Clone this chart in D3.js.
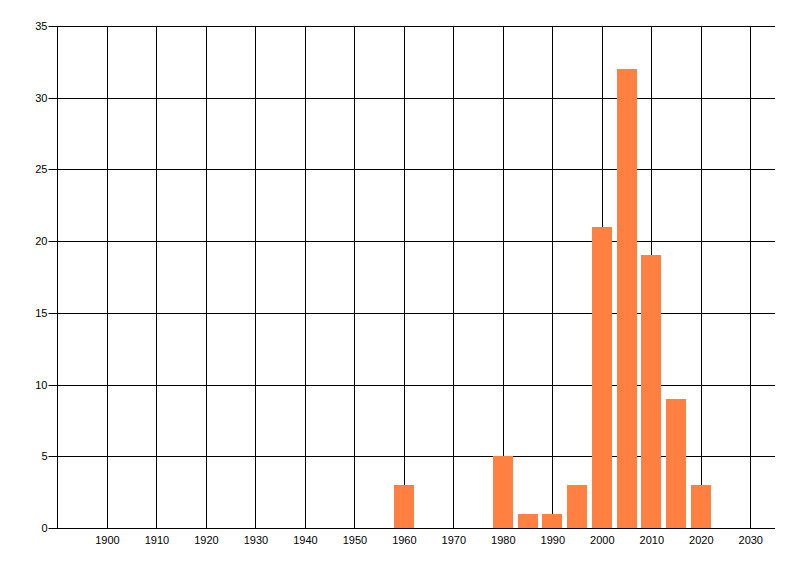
<!DOCTYPE html>
<html>
<head>
<meta charset="utf-8">
<script src="https://cdn.jsdelivr.net/npm/d3@7"></script>
<style>
  body { margin: 0; background: #fff; }
  svg text { font-family: "Liberation Sans", Arial, sans-serif; font-size: 11px; fill: #000; }
</style>
</head>
<body>
<svg id="chart"></svg>
<script>
const years = [1960, 1980, 1985, 1990, 1995, 2000, 2005, 2010, 2015, 2020];
const counts = [3, 5, 1, 1, 3, 21, 32, 19, 9, 3];
const xTicks = [1900, 1910, 1920, 1930, 1940, 1950, 1960, 1970, 1980, 1990, 2000, 2010, 2020, 2030];
const yTicks = [0, 5, 10, 15, 20, 25, 30, 35];

function renderChart() {
  const width = 800, height = 576;
  const svg = d3.select("#chart").attr("width", width).attr("height", height);

  const margin = { top: 26, right: 25, bottom: 48, left: 57.5 };

  const xScale = d3.scaleLinear()
    .domain([1890, 2035])
    .range([margin.left, width - margin.right]);

  const yScale = d3.scaleLinear()
    .domain([0, 35])
    .range([height - margin.bottom, margin.top]);

  // ===== GRID =====
  const grid = svg.append("g");

  grid.selectAll(".vgrid")
    .data(xTicks)
    .enter()
    .append("line")
    .attr("x1", d => Math.round(xScale(d)) + 0.5)
    .attr("x2", d => Math.round(xScale(d)) + 0.5)
    .attr("y1", yScale(35))
    .attr("y2", yScale(0))
    .attr("stroke", "#000");

  grid.selectAll(".hgrid")
    .data(yTicks)
    .enter()
    .append("line")
    .attr("x1", margin.left - 9)
    .attr("x2", width - margin.right)
    .attr("y1", d => Math.round(yScale(d)) + 0.5)
    .attr("y2", d => Math.round(yScale(d)) + 0.5)
    .attr("stroke", "#000");

  // left axis line
  grid.append("line")
    .attr("x1", margin.left)
    .attr("x2", margin.left)
    .attr("y1", yScale(35))
    .attr("y2", yScale(0) + 0.5)
    .attr("stroke", "#000");

  // ===== BARS =====
  const barW = xScale(1894) - xScale(1890);
  svg.append("g")
    .selectAll("rect")
    .data(years.map((y, i) => ({ year: y, count: counts[i] })))
    .enter()
    .append("rect")
    .attr("x", d => Math.round(xScale(d.year) - barW / 2))
    .attr("width", Math.round(barW))
    .attr("y", d => Math.round(yScale(d.count)))
    .attr("height", d => Math.round(yScale(0)) - Math.round(yScale(d.count)))
    .attr("fill", "#ff8040");

  // ===== AXIS LABELS =====
  svg.append("g")
    .selectAll("text")
    .data(yTicks)
    .enter()
    .append("text")
    .attr("x", margin.left - 10)
    .attr("y", d => yScale(d) + 4)
    .attr("text-anchor", "end")
    .text(d => d);

  svg.append("g")
    .selectAll("text")
    .data(xTicks)
    .enter()
    .append("text")
    .attr("x", d => xScale(d) + 0.5)
    .attr("y", yScale(0) + 16)
    .attr("text-anchor", "middle")
    .text(d => d);
}

renderChart();
</script>
</body>
</html>
